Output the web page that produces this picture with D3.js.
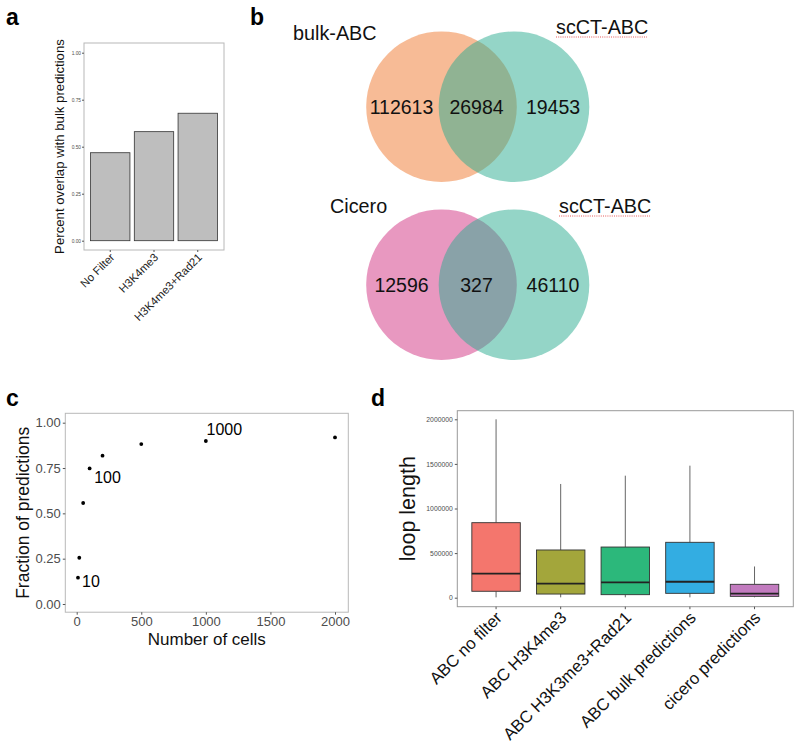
<!DOCTYPE html>
<html><head><meta charset="utf-8">
<script src="https://cdn.jsdelivr.net/npm/d3@7"></script>
<style>body{margin:0;background:#fff}svg{display:block}text{font-family:"Liberation Sans",Arial,Helvetica,sans-serif}</style>
</head><body><svg id="c" width="800" height="748"></svg>
<script>
// ---- Panel a data
const catsA = ["No Filter", "H3K4me3", "H3K4me3+Rad21"];
const valsA = [0.468, 0.58, 0.678];
const ticksA = [0, 0.25, 0.5, 0.75, 1];
// ---- Panel b data (Venn counts)
const vennTopLabels = ["bulk-ABC", "scCT-ABC"];
const vennTopCounts = [112613, 26984, 19453];
const vennBotLabels = ["Cicero", "scCT-ABC"];
const vennBotCounts = [12596, 327, 46110];
// ---- Panel c data
const cellsC = [10, 20, 50, 100, 200, 500, 1000, 2000];
const fracC = [0.145, 0.255, 0.557, 0.748, 0.818, 0.882, 0.899, 0.919];
const labelledC = [10, 100, 1000];
const ticksCx = [0, 500, 1000, 1500, 2000];
const ticksCy = [0, 0.25, 0.5, 0.75, 1];
// ---- Panel d data (boxplot stats)
const catsD = ["ABC no filter", "ABC H3K4me3", "ABC H3K3me3+Rad21", "ABC bulk predictions", "cicero predictions"];
const loD = [4000, 4000, 4000, 4000, 4000];
const q1D = [72000, 41000, 34000, 49000, 15000];
const medD = [269000, 157000, 172000, 179000, 45000];
const q3D = [841000, 535000, 568000, 621000, 150000];
const hiD = [2000000, 1275000, 1368000, 1480000, 350000];
const ticksD = [0, 500000, 1000000, 1500000, 2000000];
const fillD = ["#F4766D", "#A3A63B", "#2CB87B", "#33ADE2", "#C27BBF"];

const svg = d3.select("#c");
const gridCol = "#b8b8b8", tickCol = "#555", tickTxt = "#4d4d4d";

function panelLabel(t, x, y){
  svg.append("text").attr("x", x).attr("y", y).attr("font-size", 23).attr("font-weight", "bold").text(t);
}
panelLabel("a", 6, 25); panelLabel("b", 250, 25); panelLabel("c", 6, 406); panelLabel("d", 371, 406);

// ================= Panel a
{
  const L=84, R=224, T=43, B=250;
  const x = d3.scaleBand().domain(catsA).range([L, R]).paddingInner(0.1).paddingOuter(0.15);
  const y = d3.scaleLinear().domain([0,1]).range([240.7, 52.7]);
  const g = svg.append("g");
  g.selectAll("rect.bar").data(catsA).join("rect").attr("class","bar")
    .attr("x", d=>x(d)).attr("width", x.bandwidth())
    .attr("y", (d,i)=>y(valsA[i])).attr("height", (d,i)=>y(0)-y(valsA[i]))
    .attr("fill", "#BEBEBE").attr("stroke", "#333").attr("stroke-width", 0.8);
  g.append("rect").attr("x",L).attr("y",T).attr("width",R-L).attr("height",B-T).attr("fill","none").attr("stroke",gridCol).attr("stroke-width",1);
  const ya = g.append("g").attr("transform",`translate(${L},0)`).call(d3.axisLeft(y).tickValues(ticksA).tickFormat(d3.format(".2f")).tickSize(2).tickPadding(1));
  ya.select(".domain").remove();
  ya.selectAll("line").attr("stroke", tickCol);
  ya.selectAll("text").attr("font-size", 4.8).attr("fill", tickTxt).style("font-family", "Liberation Sans, Arial");
  const xa = g.append("g").attr("transform",`translate(0,${B})`).call(d3.axisBottom(x).tickSize(2).tickPadding(2));
  xa.select(".domain").remove();
  xa.selectAll("line").attr("stroke", tickCol);
  xa.selectAll("text").attr("font-size", 11.3).attr("fill", "#222").style("font-family","Liberation Sans, Arial")
    .attr("text-anchor","end").attr("dy", null).attr("y", 0).attr("x", 0)
    .attr("transform", "translate(5,8) rotate(-45)");
  g.append("text").attr("transform", `translate(64,${(T+B)/2}) rotate(-90)`).attr("text-anchor","middle")
    .attr("font-size", 13.2).attr("fill","#111").text("Percent overlap with bulk predictions");
}

// ================= Panel b (Venn)
function venn(cy, colA, colB, labels, counts, labelPos){
  const g = svg.append("g");
  const circles = [{cx: 441.5, col: colA}, {cx: 514, col: colB}];
  g.selectAll("circle").data(circles).join("circle")
    .attr("cx", d=>d.cx).attr("cy", cy).attr("r", 75.3)
    .attr("fill", d=>d.col).attr("fill-opacity", 0.5);
  const numX = [401.5, 476.5, 553];
  g.selectAll("text.num").data(counts).join("text").attr("class","num")
    .attr("x", (d,i)=>numX[i]).attr("y", cy+7).attr("text-anchor","middle")
    .attr("font-size", 19.5).attr("fill","#111").text(d=>d);
  g.selectAll("text.lab").data(labels).join("text").attr("class","lab")
    .attr("x", (d,i)=>labelPos[i][0]).attr("y", (d,i)=>labelPos[i][1])
    .attr("font-size", 19.8).attr("fill","#111").text(d=>d);
  const lp = labelPos[1];
  g.append("line").attr("x1", lp[0]).attr("x2", lp[0]+91).attr("y1", lp[1]+3).attr("y2", lp[1]+3)
    .attr("stroke", "#e03030").attr("stroke-width", 0.8).attr("stroke-dasharray", "1,1.2");
}
venn(106.7, "#EF772D", "#29AB8F", vennTopLabels, vennTopCounts, [[293,40],[556,34]]);
venn(284.7, "#D13181", "#29AB8F", vennBotLabels, vennBotCounts, [[330,213],[559,213]]);

// ================= Panel c
{
  const L=65.3, R=348.3, T=413.3, B=612.2;
  const x = d3.scaleLinear().domain([0,2000]).range([76.7, 335]);
  const y = d3.scaleLinear().domain([0,1]).range([604, 422.7]);
  const g = svg.append("g");
  g.append("rect").attr("x",L).attr("y",T).attr("width",R-L).attr("height",B-T).attr("fill","none").attr("stroke",gridCol).attr("stroke-width",1);
  g.selectAll("circle").data(cellsC).join("circle")
    .attr("cx", d=>x(d)).attr("cy", (d,i)=>y(fracC[i])).attr("r", 1.9).attr("fill","#000");
  const nudge = {10:[4,9], 100:[4.6,15], 1000:[0.7,-5.7]};
  g.selectAll("text.pl").data(labelledC).join("text").attr("class","pl")
    .attr("x", d=>x(d)+nudge[d][0]).attr("y", d=>y(fracC[cellsC.indexOf(d)])+nudge[d][1])
    .attr("font-size", 16).attr("fill","#000").text(d=>d);
  const ya = g.append("g").attr("transform",`translate(${L},0)`).call(d3.axisLeft(y).tickValues(ticksCy).tickFormat(d3.format(".2f")).tickSize(2.5).tickPadding(2));
  ya.select(".domain").remove(); ya.selectAll("line").attr("stroke",tickCol);
  ya.selectAll("text").attr("font-size",13).attr("fill",tickTxt).style("font-family","Liberation Sans, Arial");
  const xa = g.append("g").attr("transform",`translate(0,${B})`).call(d3.axisBottom(x).tickValues(ticksCx).tickFormat(d3.format("d")).tickSize(2.5).tickPadding(2));
  xa.select(".domain").remove(); xa.selectAll("line").attr("stroke",tickCol);
  xa.selectAll("text").attr("font-size",13).attr("fill",tickTxt).style("font-family","Liberation Sans, Arial");
  g.append("text").attr("x",(L+R)/2).attr("y",645).attr("text-anchor","middle").attr("font-size",17).attr("fill","#111").text("Number of cells");
  g.append("text").attr("transform",`translate(29,${(T+B)/2}) rotate(-90)`).attr("text-anchor","middle").attr("font-size",17.5).attr("fill","#111").text("Fraction of predictions");
}

// ================= Panel d
{
  const L=457.3, R=793.3, T=410.7, B=606.7;
  const x = d3.scaleBand().domain(catsD).range([L,R]).paddingInner(0.25).paddingOuter(0.225);
  const y = d3.scaleLinear().domain([0,2000000]).range([597.7, 419.3]);
  const g = svg.append("g");
  const bw = x.bandwidth();
  const rows = catsD.map((c,i)=>({c, i}));
  const bx = g.selectAll("g.box").data(rows).join("g").attr("class","box");
  bx.append("line").attr("x1", d=>x(d.c)+bw/2).attr("x2", d=>x(d.c)+bw/2)
    .attr("y1", d=>y(hiD[d.i])).attr("y2", d=>y(q3D[d.i])).attr("stroke","#555").attr("stroke-width",0.9);
  bx.append("line").attr("x1", d=>x(d.c)+bw/2).attr("x2", d=>x(d.c)+bw/2)
    .attr("y1", d=>y(q1D[d.i])).attr("y2", d=>y(loD[d.i])).attr("stroke","#555").attr("stroke-width",0.9);
  bx.append("rect").attr("x", d=>x(d.c)).attr("width", bw)
    .attr("y", d=>y(q3D[d.i])).attr("height", d=>y(q1D[d.i])-y(q3D[d.i]))
    .attr("fill", d=>fillD[d.i]).attr("stroke","#333").attr("stroke-width",0.9);
  bx.append("line").attr("x1", d=>x(d.c)).attr("x2", d=>x(d.c)+bw)
    .attr("y1", d=>y(medD[d.i])).attr("y2", d=>y(medD[d.i])).attr("stroke","#222").attr("stroke-width",1.8);
  g.append("rect").attr("x",L).attr("y",T).attr("width",R-L).attr("height",B-T).attr("fill","none").attr("stroke","#999").attr("stroke-width",1);
  const ya = g.append("g").attr("transform",`translate(${L},0)`).call(d3.axisLeft(y).tickValues(ticksD).tickFormat(d3.format("d")).tickSize(2.5).tickPadding(2));
  ya.select(".domain").remove(); ya.selectAll("line").attr("stroke",tickCol);
  ya.selectAll("text").attr("font-size",6.8).attr("fill",tickTxt).style("font-family","Liberation Sans, Arial");
  const xa = g.append("g").attr("transform",`translate(0,${B})`).call(d3.axisBottom(x).tickSize(2.5).tickPadding(2));
  xa.select(".domain").remove(); xa.selectAll("line").attr("stroke",tickCol);
  xa.selectAll("text").attr("font-size",16.8).attr("fill","#111").style("font-family","Liberation Sans, Arial")
    .attr("text-anchor","end").attr("dy", null).attr("y",0).attr("x",0)
    .attr("transform","translate(7,12) rotate(-45)");
  g.append("text").attr("transform",`translate(415,${(T+B)/2}) rotate(-90)`).attr("text-anchor","middle").attr("font-size",21.5).attr("fill","#111").text("loop length");
}
</script></body></html>
